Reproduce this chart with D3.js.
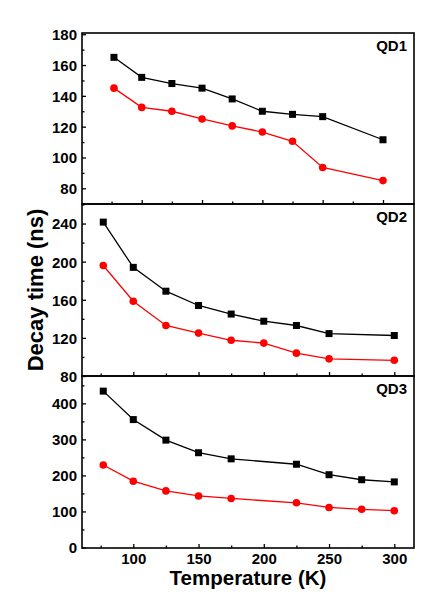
<!DOCTYPE html>
<html>
<head>
<meta charset="utf-8">
<script src="https://cdn.jsdelivr.net/npm/d3@7"></script>
<style>
	html, body { margin: 0; padding: 0; background: #fff; }
	svg text { font-family: "Liberation Sans", Arial, sans-serif; font-weight: bold; fill: #000; }
</style>
</head>
<body>
<div id="chart"></div>
<script>
// temperatures (K)
let tempQD1		= [77, 100, 125, 150, 175, 200, 225, 250, 300];
let tempQD2		= [77, 100, 125, 150, 175, 200, 225, 250, 300];
let tempQD3		= [77, 100, 125, 150, 175, 225, 250, 275, 300];

// decay times (ns)
let qd1Black	= [165, 152, 148, 145, 138, 130, 128, 126.5, 111.5];
let qd1Red		= [145, 132.5, 130, 125, 120.5, 116.5, 110.5, 93.5, 85];
let qd2Black	= [241.5, 194, 169, 154, 145, 137.5, 133, 124.5, 122.5];
let qd2Red		= [196, 158.5, 133, 125, 117.5, 114.5, 104, 98, 96.5];
let qd3Black	= [434, 355, 298, 263, 246, 231, 202, 188, 182];
let qd3Red		= [229, 184, 157, 143, 136, 124, 111, 106, 102];

let xMajor		= [100, 150, 200, 250, 300];
let xMinor		= [75, 125, 175, 225, 275];
let panelNames	= ["QD1", "QD2", "QD3"];

let canvasWidth		= 425;
let canvasHeight	= 606;
let left = 82, right = 414;

let panels = [
	{ name: panelNames[0], top: 33, bottom: 204, xDom: [50.5, 325.7], yDom: [69.8, 180.8],
	  yMajor: [80, 100, 120, 140, 160, 180], yMinor: [70, 90, 110, 130, 150, 170],
	  t: tempQD1, black: qd1Black, red: qd1Red, labels: false },
	{ name: panelNames[1], top: 204, bottom: 376, xDom: [60.7, 315.1], yDom: [80, 260.5],
	  yMajor: [80, 120, 160, 200, 240], yMinor: [100, 140, 180, 220, 260],
	  t: tempQD2, black: qd2Black, red: qd2Red, labels: false },
	{ name: panelNames[2], top: 376, bottom: 548, xDom: [60.7, 315.1], yDom: [-1.5, 476],
	  yMajor: [0, 100, 200, 300, 400], yMinor: [50, 150, 250, 350, 450],
	  t: tempQD3, black: qd3Black, red: qd3Red, labels: true }
];

let svg = d3.select("#chart").append("svg")
	.attr("width", canvasWidth)
	.attr("height", canvasHeight);

panels.forEach((p) => {
	let x = d3.scaleLinear().domain(p.xDom).range([left, right]);
	let y = d3.scaleLinear().domain(p.yDom).range([p.bottom, p.top]);
	let g = svg.append("g").attr("class", "panel");

	// left axis, ticks pointing inward
	g.append("g")
		.attr("transform", "translate(" + left + ",0)")
		.call(d3.axisLeft(y).tickValues(p.yMajor).tickSize(-4).tickPadding(5).tickFormat(d3.format("d")))
		.call((a) => a.select(".domain").remove())
		.selectAll("text").style("font-size", "15px").attr("dy", "0.36em");
	g.append("g")
		.attr("transform", "translate(" + left + ",0)")
		.call(d3.axisLeft(y).tickValues(p.yMinor).tickSize(-2.5).tickFormat(""))
		.call((a) => a.select(".domain").remove());

	// bottom axis
	g.append("g")
		.attr("transform", "translate(0," + p.bottom + ")")
		.call(d3.axisBottom(x).tickValues(xMajor).tickSize(-4).tickPadding(5)
			.tickFormat(p.labels ? d3.format("d") : ""))
		.call((a) => a.select(".domain").remove())
		.selectAll("text").style("font-size", "15px").attr("dy", "0.71em");
	g.append("g")
		.attr("transform", "translate(0," + p.bottom + ")")
		.call(d3.axisBottom(x).tickValues(xMinor).tickSize(-2.5).tickFormat(""))
		.call((a) => a.select(".domain").remove());

	g.selectAll(".tick line").attr("stroke", "#000").attr("stroke-width", 1.3);

	// frame
	g.append("rect")
		.attr("x", left).attr("y", p.top)
		.attr("width", right - left).attr("height", p.bottom - p.top)
		.attr("fill", "none").attr("stroke", "#000").attr("stroke-width", 1.6);

	let line = d3.line().x((d) => x(d[0])).y((d) => y(d[1]));
	let blackPts = p.t.map((t, i) => [t, p.black[i]]);
	let redPts = p.t.map((t, i) => [t, p.red[i]]);

	g.append("path").datum(redPts)
		.attr("d", line).attr("fill", "none").attr("stroke", "#ff0000").attr("stroke-width", 1.3);
	g.append("path").datum(blackPts)
		.attr("d", line).attr("fill", "none").attr("stroke", "#000").attr("stroke-width", 1.3);

	g.selectAll(".red-dot").data(redPts).enter().append("circle")
		.attr("class", "red-dot")
		.attr("cx", (d) => x(d[0])).attr("cy", (d) => y(d[1]))
		.attr("r", 3.8).attr("fill", "#ff0000");
	g.selectAll(".black-sq").data(blackPts).enter().append("rect")
		.attr("class", "black-sq")
		.attr("x", (d) => x(d[0]) - 3.5).attr("y", (d) => y(d[1]) - 3.5)
		.attr("width", 7).attr("height", 7).attr("fill", "#000");

	g.append("text")
		.attr("x", right - 7).attr("y", p.top + 18)
		.attr("text-anchor", "end")
		.style("font-size", "15px")
		.text(p.name);
});

// axis titles
svg.append("text")
	.attr("transform", "translate(43,290) rotate(-90)")
	.attr("text-anchor", "middle")
	.style("font-size", "22px")
	.text("Decay time (ns)");

svg.append("text")
	.attr("x", 248).attr("y", 585)
	.attr("text-anchor", "middle")
	.style("font-size", "20.5px")
	.text("Temperature (K)");
</script>
</body>
</html>
